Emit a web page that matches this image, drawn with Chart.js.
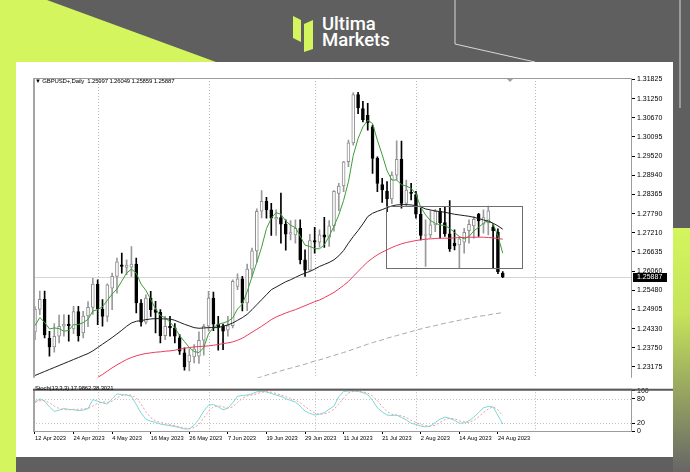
<!DOCTYPE html>
<html>
<head>
<meta charset="utf-8">
<script src="https://cdn.jsdelivr.net/npm/chart.js@4.4.1/dist/chart.umd.min.js"></script>
<style>
html,body{margin:0;padding:0;}
body{width:690px;height:472px;overflow:hidden;position:relative;background:#5f5f5f;font-family:"Liberation Sans",Arial,sans-serif;}
svg.bg{position:absolute;left:0;top:0;}
#panel{position:absolute;left:16px;top:62px;width:657px;height:395px;background:#fff;}
canvas{position:absolute;}
#mainC{left:16px;top:62px;}
#stochC{left:16px;top:383px;}
.lbl{position:absolute;font-size:6px;letter-spacing:-0.15px;color:#000;white-space:pre;line-height:7px;font-family:"Liberation Sans",Arial,sans-serif;}
#logo{position:absolute;left:322px;top:16px;color:#fff;font-family:Roboto,"Liberation Sans",sans-serif;font-weight:500;font-size:18.5px;line-height:16px;}
</style>
</head>
<body>
<svg class="bg" width="690" height="472">
  <defs>
    <linearGradient id="rg" x1="0" y1="0" x2="0" y2="1">
      <stop offset="0" stop-color="#d4f55e"/>
      <stop offset="0.35" stop-color="#c6e35a"/>
      <stop offset="1" stop-color="#666666"/>
    </linearGradient>
  </defs>
  <polygon points="0,0 47,0 216,62 16,62 16,472 0,472" fill="#d4f55e"/>
  <rect x="673" y="228" width="17" height="244" fill="url(#rg)"/>
  <polyline points="455,0 455,44 535,62" fill="none" stroke="#d8d8d8" stroke-width="1"/>
  <polyline points="680,0 680,108" fill="none" stroke="#d8d8d8" stroke-width="1"/>
  <polygon points="293,16 301,20 301,42 293,38" fill="#d4f55e"/>
  <polygon points="304,24 313,20 313,49 304,52" fill="#d4f55e"/>
</svg>
<div id="panel"></div>
<canvas id="mainC" width="657" height="322"></canvas>
<canvas id="stochC" width="657" height="74"></canvas>
<div class="lbl" style="left:35px;top:78px;">▼ GBPUSD+,Daily  1.25997 1.26049 1.25859 1.25887</div>
<div class="lbl" style="left:35px;top:385px;">Stoch(13,3,3) 17.9862 38.3021</div>
<div id="logo">Ultima<br>Markets</div>
<script>
// ---------- data ----------
const dateLabels = ['12 Apr 2023','24 Apr 2023','4 May 2023','16 May 2023','26 May 2023','7 Jun 2023','19 Jun 2023','29 Jun 2023','11 Jul 2023','21 Jul 2023','2 Aug 2023','14 Aug 2023','24 Aug 2023'];
const dateLabelBars = [0,8,16,24,32,40,48,56,64,72,80,88,96];
const monthStartBars = [13,36,58,79,103.7];
const priceTicks = [1.31825,1.31250,1.30670,1.30095,1.29520,1.28940,1.28365,1.27790,1.27210,1.26635,1.26060,1.25480,1.24905,1.24330,1.23750,1.23175];
const stochTicks = [100,80,20,0];
const stochLevels = [80,20];
const lastPrice = 1.25887;
const boxBars = [72.8,101];
const boxPrices = [1.26162,1.28026];

const opens = [1.2423,1.2491,1.2521,1.2404,1.2378,1.2410,1.2440,1.2447,1.2432,1.2484,
 1.2420,1.2471,1.2497,1.2567,1.2492,1.2470,1.2555,1.2590,1.2625,1.2617,
 1.2618,1.2627,1.2510,1.2452,1.2525,1.2490,1.2482,1.2412,1.2440,1.2435,
 1.2405,1.2360,1.2333,1.2348,1.2350,1.2398,1.2440,1.2525,1.2446,1.2441,
 1.2428,1.2442,1.2560,1.2583,1.2510,1.2612,1.2667,1.2786,1.2816,1.2790,
 1.2762,1.2767,1.2747,1.2717,1.2715,1.2735,1.2640,1.2609,1.2698,1.2693,
 1.2715,1.2708,1.2742,1.2840,1.2862,1.2935,1.2992,1.3137,1.3095,1.3075,
 1.3040,1.2945,1.2866,1.2847,1.2823,1.2895,1.2942,1.2810,1.2843,1.2836,
 1.2777,1.2713,1.2715,1.2745,1.2786,1.2752,1.2718,1.2690,1.2685,1.2693,
 1.2728,1.2742,1.2777,1.2747,1.2752,1.2738,1.2723,1.25997];
const highs = [1.2499,1.2546,1.2546,1.2425,1.2448,1.2474,1.2475,1.2474,1.2500,1.2500,
 1.2485,1.2514,1.2584,1.2580,1.2520,1.2568,1.2600,1.2645,1.2660,1.2640,
 1.2680,1.2645,1.2520,1.2535,1.2545,1.2515,1.2490,1.2470,1.2470,1.2448,
 1.2415,1.2375,1.2372,1.2385,1.2423,1.2446,1.2545,1.2543,1.2470,1.2447,
 1.2470,1.2580,1.2598,1.2590,1.2627,1.2675,1.2793,1.2848,1.2828,1.2810,
 1.2790,1.2841,1.2760,1.2758,1.2760,1.2760,1.2670,1.2717,1.2738,1.2730,
 1.2768,1.2758,1.2848,1.2870,1.2936,1.3000,1.3143,1.3144,1.3117,1.3111,
 1.3045,1.2950,1.2885,1.2875,1.2905,1.2998,1.2997,1.2880,1.2870,1.2846,
 1.2795,1.2760,1.2787,1.2792,1.2795,1.2800,1.2818,1.2730,1.2710,1.2735,
 1.2760,1.2770,1.2780,1.2790,1.2802,1.2746,1.2733,1.26049];
const lows = [1.2400,1.2475,1.2405,1.2350,1.2362,1.2390,1.2410,1.2395,1.2418,1.2395,
 1.2405,1.2439,1.2476,1.2445,1.2440,1.2455,1.2490,1.2540,1.2600,1.2595,
 1.2590,1.2480,1.2440,1.2447,1.2470,1.2420,1.2390,1.2400,1.2410,1.2390,
 1.2355,1.2308,1.2306,1.2330,1.2328,1.2353,1.2425,1.2427,1.2368,1.2370,
 1.2410,1.2435,1.2550,1.2486,1.2487,1.2590,1.2633,1.2766,1.2765,1.2713,
 1.2713,1.2690,1.2669,1.2700,1.2690,1.2628,1.2590,1.2608,1.2660,1.2678,
 1.2677,1.2680,1.2726,1.2788,1.2845,1.2920,1.2985,1.3080,1.3055,1.3030,
 1.2900,1.2845,1.2813,1.2785,1.2809,1.2880,1.2795,1.2800,1.2820,1.2765,
 1.2700,1.2620,1.2706,1.2725,1.2705,1.2710,1.2665,1.2670,1.2615,1.2660,
 1.2690,1.2705,1.2710,1.2720,1.2715,1.2615,1.2598,1.25859];
const closes = [1.2491,1.2521,1.2414,1.2378,1.2410,1.2440,1.2447,1.2442,1.2484,1.2412,
 1.2471,1.2497,1.2567,1.2492,1.2470,1.2565,1.2590,1.2634,1.2620,1.2624,
 1.2627,1.2510,1.2452,1.2525,1.2490,1.2482,1.2412,1.2440,1.2435,1.2410,
 1.2365,1.2318,1.2353,1.2372,1.2398,1.2440,1.2525,1.2446,1.2437,1.2425,
 1.2442,1.2575,1.2583,1.2510,1.2612,1.2667,1.2786,1.2816,1.2790,1.2765,
 1.2768,1.2747,1.2717,1.2722,1.2735,1.2640,1.2609,1.2698,1.2693,1.2715,
 1.2708,1.2742,1.2846,1.2862,1.2935,1.2992,1.3137,1.3097,1.3062,1.3052,
 1.2945,1.2870,1.2850,1.2823,1.2895,1.2942,1.2810,1.2850,1.2840,1.2777,
 1.2713,1.2715,1.2745,1.2786,1.2752,1.2718,1.2673,1.2682,1.2703,1.2723,
 1.2747,1.2762,1.2757,1.2767,1.2787,1.2728,1.2604,1.25887];

const maFast = [1.2442,1.2466,1.2452,1.2432,1.2435,1.2433,1.2425,1.2428,1.2445,1.2445,
 1.2451,1.2461,1.2486,1.2490,1.2499,1.2518,1.2537,1.2552,1.2576,1.2600,
 1.2612,1.2600,1.2567,1.2548,1.2521,1.2492,1.2472,1.2466,1.2452,1.2436,
 1.2412,1.2394,1.2376,1.2364,1.2361,1.2376,1.2418,1.2436,1.2446,1.2450,
 1.2455,1.2465,1.2492,1.2507,1.2544,1.2589,1.2632,1.2678,1.2734,1.2765,
 1.2782,1.2777,1.2757,1.2744,1.2737,1.2711,1.2684,1.2680,1.2674,1.2673,
 1.2685,1.2711,1.2741,1.2775,1.2819,1.2875,1.2954,1.3005,1.3040,1.3060,
 1.3050,1.3000,1.2956,1.2908,1.2880,1.2880,1.2866,1.2862,1.2855,1.2838,
 1.2798,1.2775,1.2758,1.2750,1.2745,1.2743,1.2735,1.2722,1.2710,1.2703,
 1.2710,1.2727,1.2738,1.2750,1.2760,1.2748,1.2712,1.2660];
const maMid = [1.2292,1.2298,1.2304,1.2310,1.2316,1.2322,1.2328,1.2334,1.2340,1.2346,
 1.2352,1.2358,1.2366,1.2376,1.2386,1.2396,1.2406,1.2417,1.2428,1.2440,
 1.2450,1.2455,1.2457,1.2460,1.2462,1.2463,1.2463,1.2462,1.2462,1.2458,
 1.2452,1.2446,1.2441,1.2436,1.2434,1.2435,1.2436,1.2436,1.2436,1.2440,
 1.2444,1.2450,1.2458,1.2466,1.2476,1.2490,1.2505,1.2520,1.2535,1.2550,
 1.2558,1.2566,1.2574,1.2580,1.2587,1.2594,1.2600,1.2605,1.2612,1.2620,
 1.2626,1.2632,1.2640,1.2652,1.2668,1.2690,1.2710,1.2728,1.2748,1.2770,
 1.2780,1.2786,1.2791,1.2797,1.2802,1.2805,1.2806,1.2806,1.2805,1.2803,
 1.2799,1.2793,1.2790,1.2787,1.2785,1.2783,1.2780,1.2777,1.2775,1.2773,
 1.2771,1.2768,1.2764,1.2760,1.2756,1.2750,1.2742,1.2732];
const maSlow = [null,null,null,null,null,null,null,null,null,null,
 null,null,null,1.2286,1.2295,1.2305,1.2315,1.2324,1.2332,1.2340,
 1.2346,1.2351,1.2355,1.2358,1.2360,1.2362,1.2363,1.2365,1.2366,1.2368,
 1.2371,1.2374,1.2376,1.2378,1.2379,1.2380,1.2381,1.2383,1.2385,1.2388,
 1.2390,1.2393,1.2398,1.2404,1.2413,1.2422,1.2431,1.2440,1.2450,1.2460,
 1.2468,1.2474,1.2480,1.2485,1.2490,1.2496,1.2502,1.2508,1.2514,1.2519,
 1.2526,1.2534,1.2542,1.2552,1.2563,1.2575,1.2590,1.2605,1.2620,1.2634,
 1.2645,1.2655,1.2663,1.2670,1.2677,1.2683,1.2688,1.2692,1.2695,1.2698,
 1.2700,1.2702,1.2703,1.2704,1.2705,1.2705,1.2705,1.2706,1.2707,1.2707,
 1.2708,1.2708,1.2708,1.2708,1.2707,1.2706,1.2704,1.2702];
const maLong = [null,null,null,null,null,null,null,null,null,null,
 null,null,null,null,null,null,null,null,null,null,
 null,null,null,null,null,null,null,null,null,null,
 null,null,null,null,null,null,null,null,null,null,
 null,null,null,null,null,null,1.2284,1.2288,1.2293,1.2297,
 1.2301,1.2306,1.2310,1.2314,1.2318,1.2322,1.2326,1.2331,1.2335,1.2339,
 1.2343,1.2348,1.2352,1.2357,1.2361,1.2366,1.2371,1.2376,1.2381,1.2386,
 1.2391,1.2395,1.2399,1.2404,1.2408,1.2412,1.2416,1.2420,1.2424,1.2428,
 1.2432,1.2436,1.2439,1.2442,1.2446,1.2449,1.2452,1.2455,1.2458,1.2461,
 1.2464,1.2467,1.2470,1.2472,1.2474,1.2477,1.2479,1.2481];
const stochMain = [70,80,74,60,49,52,56,54,53,51,
 52,56,78,74,70,67,80,92,90,89,
 86,66,45,30,25,22,18,16,14,12,
 9,6,6,15,30,50,64,66,60,53,
 57,70,86,88,89,92,97,98,97,93,
 89,86,80,76,72,62,50,44,40,42,
 46,54,62,85,98,99,99,98,95,90,
 76,58,48,40,39,40,34,28,20,17,
 13,11,13,22,30,35,32,27,20,21,
 26,35,46,58,61,60,39,17.9862];
const stochSignal = [74,75,76,70,62,56,53,53,54,54,
 55,56,62,69,72,71,74,82,88,90,
 89,82,67,48,34,26,22,19,16,14,
 11,8,7,9,17,33,50,60,63,60,
 57,60,71,81,87,89,92,96,97,96,
 93,89,85,81,77,70,61,52,45,42,
 43,47,54,67,82,94,98,99,97,94,
 87,75,61,49,42,40,38,34,27,22,
 17,14,13,15,22,29,32,31,26,23,
 22,27,36,46,55,60,53,38.3021];

// ---------- helpers ----------
const bars = closes.map((c,i)=>i);
const isBull = i => closes[i] >= opens[i];
const X_MIN = -0.41, X_MAX = 123.8;
const FONT = {family:'"Liberation Sans", Arial, sans-serif', size:7};
const DATE_FONT = {family:'"Liberation Sans", Arial, sans-serif', size:5.7};

function vGrid(chart){
  const {ctx, chartArea:a, scales:{x}} = chart;
  ctx.save();
  ctx.strokeStyle = '#b8b8b8'; ctx.lineWidth = 1; ctx.setLineDash([1,2]);
  monthStartBars.forEach(v=>{
    const px = Math.round(x.getPixelForValue(v)) + 0.5;
    ctx.beginPath(); ctx.moveTo(px, a.top); ctx.lineTo(px, a.bottom); ctx.stroke();
  });
  ctx.restore();
}

const mainDecor = {
  id:'mainDecor',
  beforeDatasetsDraw(chart){
    const {ctx, chartArea:a, scales:{y}} = chart;
    vGrid(chart);
    ctx.save();
    ctx.strokeStyle = '#d4d4d4'; ctx.lineWidth = 1;
    const py = Math.round(y.getPixelForValue(lastPrice)) + 0.5;
    ctx.beginPath(); ctx.moveTo(a.left, py); ctx.lineTo(a.right, py); ctx.stroke();
    ctx.restore();
  },
  afterDatasetsDraw(chart){
    const {ctx, chartArea:a, scales:{x,y}} = chart;
    ctx.save();
    const x0 = Math.round(x.getPixelForValue(boxBars[0])) + 0.5;
    const x1 = Math.round(x.getPixelForValue(boxBars[1])) + 0.5;
    const y0 = Math.round(y.getPixelForValue(boxPrices[1])) + 0.5;
    const y1 = Math.round(y.getPixelForValue(boxPrices[0])) + 0.5;
    ctx.strokeStyle = '#6e6e6e'; ctx.lineWidth = 1;
    ctx.strokeRect(x0, y0, x1-x0, y1-y0);
    ctx.strokeStyle = '#9c9c9c';
    ctx.beginPath();
    ctx.moveTo(a.left, a.top+0.5); ctx.lineTo(a.right-0.5, a.top+0.5); ctx.lineTo(a.right-0.5, a.bottom);
    ctx.stroke();
    ctx.strokeStyle = '#a4a4a4'; ctx.lineWidth = 2;
    ctx.beginPath(); ctx.moveTo(a.left+1, a.top); ctx.lineTo(a.left+1, a.bottom); ctx.stroke();
    const sx = x.getPixelForValue(98.5);
    ctx.fillStyle = '#a0a0a0';
    ctx.beginPath(); ctx.moveTo(sx-3, a.top+1); ctx.lineTo(sx+3, a.top+1); ctx.lineTo(sx, a.top+4); ctx.closePath(); ctx.fill();
    ctx.restore();
  },
  afterDraw(chart){
    const {ctx, chartArea:a, scales:{y}} = chart;
    const py = Math.round(y.getPixelForValue(lastPrice));
    ctx.save();
    ctx.fillStyle = '#000';
    ctx.fillRect(a.right+1, py-4, 34, 9);
    ctx.fillStyle = '#fff';
    ctx.font = '7px "Liberation Sans", Arial, sans-serif';
    ctx.textBaseline = 'middle';
    ctx.fillText(lastPrice.toFixed(5), a.right+5, py+0.5);
    ctx.restore();
  }
};

const stochDecor = {
  id:'stochDecor',
  beforeDatasetsDraw(chart){
    const {ctx, chartArea:a, scales:{y}} = chart;
    vGrid(chart);
    ctx.save();
    ctx.strokeStyle = '#c4c4c4'; ctx.lineWidth = 1; ctx.setLineDash([1,2]);
    stochLevels.forEach(v=>{
      const py = Math.round(y.getPixelForValue(v)) + 0.5;
      ctx.beginPath(); ctx.moveTo(a.left, py); ctx.lineTo(a.right, py); ctx.stroke();
    });
    ctx.restore();
  },
  afterDatasetsDraw(chart){
    const {ctx, chartArea:a} = chart;
    ctx.save();
    ctx.strokeStyle = '#9c9c9c'; ctx.lineWidth = 1;
    ctx.strokeRect(a.left+0.5, a.top, a.right-a.left-1, a.bottom-a.top-0.5);
    ctx.strokeStyle = '#a4a4a4'; ctx.lineWidth = 2;
    ctx.beginPath(); ctx.moveTo(a.left+1, a.top); ctx.lineTo(a.left+1, a.bottom); ctx.stroke();
    ctx.strokeStyle = '#5a5a5a'; ctx.lineWidth = 2;
    ctx.beginPath(); ctx.moveTo(a.left, a.top+0.5); ctx.lineTo(a.right+41, a.top+0.5); ctx.stroke();
    ctx.restore();
  }
};

function lineDS(arr, color, extra){
  return Object.assign({
    type:'line',
    data: arr.map((v,i)=>({x:i, y:v})),
    borderColor: color, borderWidth: 1, pointRadius: 0, fill:false,
    tension: 0, spanGaps:false, order: 0
  }, extra||{});
}

// ---------- main chart ----------
new Chart(document.getElementById('mainC'), {
  data: {
    datasets: [
      {
        type:'bar', order: 3, grouped:false,
        data: bars.map(i=>({x:i, y:[lows[i], highs[i]]})),
        backgroundColor: bars.map(i=> isBull(i) ? '#9a9a9a' : '#000000'),
        barThickness: 1, borderWidth: 0
      },
      {
        type:'bar', order: 2, grouped:false,
        data: bars.map(i=>({x:i, y:[Math.min(opens[i],closes[i]), Math.max(opens[i],closes[i])]})),
        backgroundColor: bars.map(i=> isBull(i) ? '#ffffff' : '#000000'),
        borderColor: bars.map(i=> isBull(i) ? '#8e8e8e' : '#000000'),
        borderWidth: 1, borderSkipped: false, barThickness: 3, minBarLength: 1
      },
      lineDS(maLong, '#a8a8a8', {borderDash:[5,3]}),
      lineDS(maSlow, '#ee3a5c'),
      lineDS(maMid, '#1e1e1e'),
      lineDS(maFast, '#3a9e3a')
    ]
  },
  options: {
    responsive:false, animation:false, devicePixelRatio:1,
    layout:{padding:{left:17, top:16, right:0, bottom:1}},
    plugins:{legend:{display:false}, tooltip:{enabled:false}},
    scales:{
      x:{type:'linear', min:X_MIN, max:X_MAX, display:false, offset:false},
      y:{
        position:'right', min:1.22850, max:1.31870,
        afterFit(s){ s.width = 41; },
        afterBuildTicks(s){ s.ticks = priceTicks.map(v=>({value:v})); },
        ticks:{font:FONT, color:'#000', padding:2, autoSkip:false, callback:v=>Number(v).toFixed(5)},
        grid:{drawOnChartArea:false, drawTicks:true, tickLength:3, color:'#000'},
        border:{display:false}
      }
    }
  },
  plugins:[mainDecor]
});

// ---------- stochastic ----------
new Chart(document.getElementById('stochC'), {
  data: {
    datasets: [
      lineDS(stochSignal, '#f39a9a', {borderDash:[2,2]}),
      lineDS(stochMain, '#7ad8d8')
    ]
  },
  options: {
    responsive:false, animation:false, devicePixelRatio:1,
    layout:{padding:{left:17, top:0, right:0, bottom:0}},
    plugins:{legend:{display:false}, tooltip:{enabled:false}},
    scales:{
      x:{
        type:'linear', min:X_MIN, max:X_MAX, offset:false,
        afterFit(s){ s.height = 25; },
        afterBuildTicks(s){ s.ticks = dateLabelBars.map(v=>({value:v})); },
        ticks:{font:DATE_FONT, color:'#000', align:'start', padding:1, maxRotation:0, autoSkip:false,
          callback:(v)=>{ const k = dateLabelBars.indexOf(Math.round(v)); return k>=0 ? dateLabels[k] : ''; }},
        grid:{drawOnChartArea:false, drawTicks:true, tickLength:2, color:'#000'},
        border:{display:false}
      },
      y:{
        position:'right', min:-1.5, max:103.4,
        afterFit(s){ s.width = 41; },
        afterBuildTicks(s){ s.ticks = stochTicks.map(v=>({value:v})); },
        ticks:{font:FONT, color:'#000', padding:2, autoSkip:false},
        grid:{drawOnChartArea:false, drawTicks:true, tickLength:3, color:'#000'},
        border:{display:false}
      }
    }
  },
  plugins:[stochDecor]
});
</script>
</body>
</html>
